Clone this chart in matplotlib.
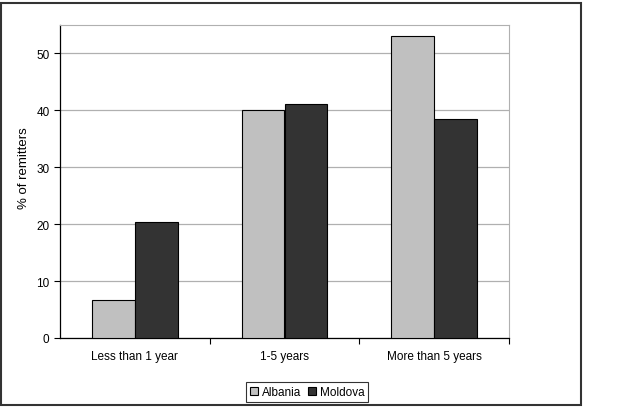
import matplotlib.pyplot as plt
import numpy as np
from matplotlib.patches import Rectangle

plt.rcParams['font.family'] = ['Liberation Sans', 'DejaVu Sans']

categories = ["Less than 1 year", "1-5 years", "More than 5 years"]
albania = [6.6, 40.1, 53.1]
moldova = [20.3, 41.1, 38.4]

fig = plt.figure(figsize=(6.38, 4.10), dpi=100)
ax = fig.add_axes([60 / 638, 1 - 339 / 410, 449 / 638, 313 / 410])

x = np.arange(len(categories))
w = 0.287
ax.bar(x - w / 2, albania, w, color="#c0c0c0", edgecolor="black", linewidth=0.8, label="Albania", zorder=3)
ax.bar(x + w / 2, moldova, w, color="#333333", edgecolor="black", linewidth=0.8, label="Moldova", zorder=3)

ax.set_xlim(-0.5, 2.5)
ax.set_ylim(0, 55)
ax.set_yticks([0, 10, 20, 30, 40, 50])
ax.yaxis.grid(True, color="#b0b0b0", linewidth=0.9, zorder=0)
ax.set_xticks(x)
ax.set_xticklabels(categories, fontsize=8.5)
ax.tick_params(axis="x", length=0, pad=9)
ax.set_xticks([0.5, 1.5, 2.5], minor=True)
ax.tick_params(axis="x", which="minor", length=4, direction="out", width=0.8)
ax.tick_params(axis="y", labelsize=8.5, length=4, width=0.8)
ax.set_ylabel("% of remitters", fontsize=9.5)
ax.yaxis.set_label_coords(-0.066, 0.546)

for side in ["top", "right"]:
    ax.spines[side].set_color("#b0b0b0")
for side in ["left", "bottom"]:
    ax.spines[side].set_color("black")
    ax.spines[side].set_linewidth(0.9)

leg = fig.legend(loc="center", bbox_to_anchor=(307 / 638, 1 - 393 / 410), ncol=2, fontsize=8.5,
                 frameon=True, fancybox=False, edgecolor="black", handlelength=0.7, handleheight=0.7,
                 handletextpad=0.3, columnspacing=0.6, borderpad=0.35)
leg.get_frame().set_linewidth(0.8)

fig.patches.append(Rectangle((0.5 / 638, 1 - 406 / 410), 580 / 638, 402 / 410, transform=fig.transFigure,
                             fill=False, edgecolor="#333333", linewidth=1.5))

fig.savefig("out.png", dpi=100)
